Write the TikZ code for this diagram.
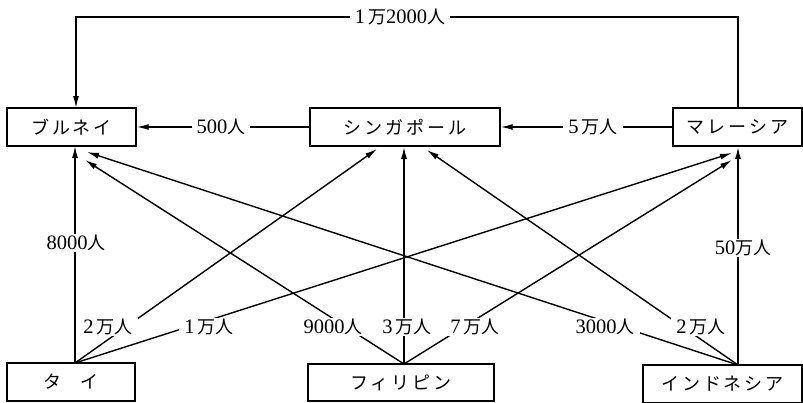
\documentclass[tikz,border=0pt]{standalone}
\usepackage{fontspec}
\setmainfont{Liberation Serif}
\newfontfamily\cjk{Noto Sans CJK JP}
\newfontfamily\boxcjk[LetterSpace=16]{Noto Sans CJK JP}
\usetikzlibrary{arrows.meta}
\newcommand{\jn}[1]{{\cjk\fontsize{18}{20}\selectfont #1}}
\begin{document}
\begin{tikzpicture}[x=1pt,y=-1pt,
  box/.style={draw, line width=1.4pt, inner sep=0pt, font=\boxcjk\fontsize{18}{20}\selectfont},
  conn/.style={line width=1.4pt},
  arr/.style={conn, -{Latex[length=12pt,width=6pt]}},
  lbl/.style={fill=white, inner xsep=5pt, inner ysep=1pt, font=\fontsize{20.5}{22}\selectfont}]
\useasboundingbox (0,0) rectangle (803,402);
% boxes
\node[box, minimum width=129pt, minimum height=38pt] (bru) at (71.5,127) {ブルネイ};
\node[box, minimum width=190pt, minimum height=38pt] (sin) at (405,127) {シンガポール};
\node[box, minimum width=129pt, minimum height=38pt] (mal) at (737.5,127) {マレーシア};
\node[box, minimum width=128pt, minimum height=38pt] (tha) at (71,382) {タ\hspace{1.1em}イ};
\node[box, minimum width=186pt, minimum height=37pt] (phi) at (401,382.5) {フィリピン};
\node[box, minimum width=159pt, minimum height=38pt] (ind) at (722.5,384) {インドネシア};
% attachment points
\coordinate (thaT) at (75,363);
\coordinate (phiT) at (404,364);
\coordinate (indT) at (738,365);
\coordinate (bruB1) at (75,146);
\coordinate (bruB2) at (87,152);
\coordinate (bruB3) at (85,160);
\coordinate (sinB1) at (377,149);
\coordinate (sinB2) at (404,147);
\coordinate (sinB3) at (427,150);
\coordinate (malB1) at (738,147);
\coordinate (malB2) at (732,153);
\coordinate (malB3) at (732,160);
\coordinate (bruT) at (76,108);
\coordinate (malT) at (738,108);
\coordinate (cR) at (738,17);
\coordinate (cL) at (76,17);
% connectors
\draw[arr] (malT) -- (cR) -- (cL) -- (bruT);
\draw[arr] (sin.west) -- (bru.east);
\draw[arr] (mal.west) -- (sin.east);
\draw[arr] (thaT) -- (bruB1);
\draw[arr] (thaT) -- (sinB1);
\draw[arr] (thaT) -- (malB2);
\draw[arr] (phiT) -- (bruB3);
\draw[arr] (phiT) -- (sinB2);
\draw[arr] (phiT) -- (malB3);
\draw[arr] (indT) -- (bruB2);
\draw[arr] (indT) -- (sinB3);
\draw[arr] (indT) -- (malB1);
% labels
\node[lbl] (l12000) at (400,17) {1\hspace{3pt}\jn{万}2000\jn{人}};
\node[lbl] (l500) at (221,127) {500\jn{人}};
\node[lbl] (l5man) at (593,127) {5\hspace{3pt}\jn{万人}};
\node[lbl] (l8000) at (76,243) {8000\jn{人}};
\node[lbl] (l50man) at (743,248) {50\jn{万人}};
\node[lbl] (lt2) at (108,327) {2\hspace{3pt}\jn{万人}};
\node[lbl] (lt1) at (209,327) {1\hspace{3pt}\jn{万人}};
\node[lbl] (lp9) at (333,327) {9000\jn{人}};
\node[lbl] (lp3) at (407,327) {3\hspace{3pt}\jn{万人}};
\node[lbl] (lp7) at (475,327) {7\hspace{3pt}\jn{万人}};
\node[lbl] (li3) at (605,327) {3000\jn{人}};
\node[lbl] (li2) at (701,327) {2\hspace{3pt}\jn{万人}};
\end{tikzpicture}
\end{document}
